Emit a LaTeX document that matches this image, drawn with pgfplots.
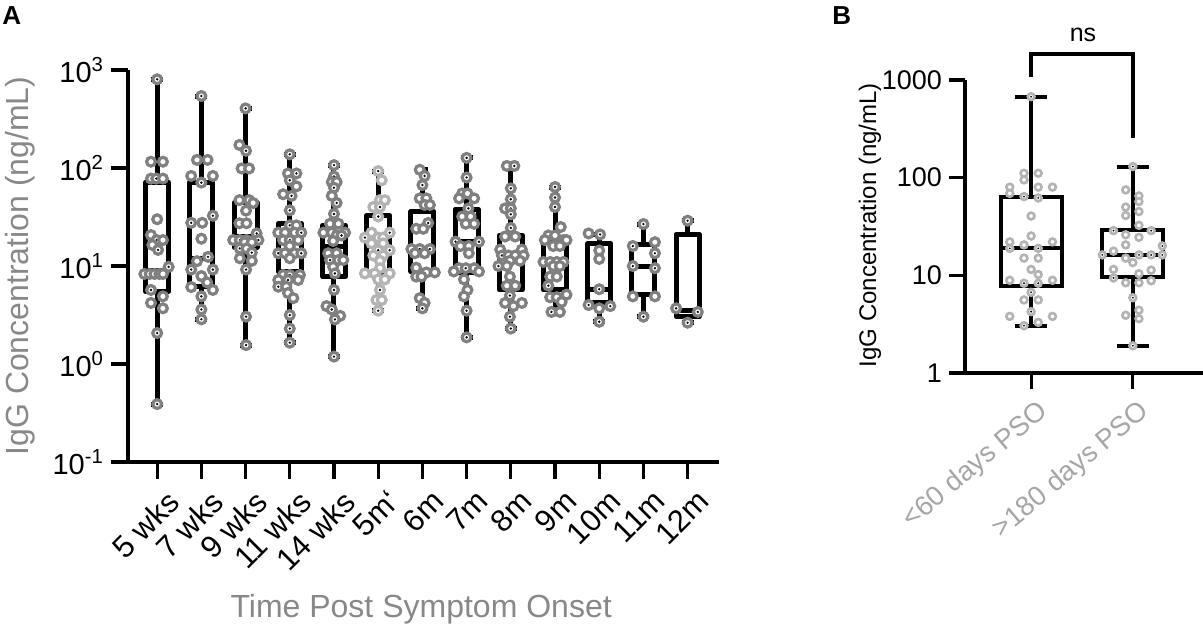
\documentclass[border=0pt]{standalone}
\usepackage{pgfplots}
\usepackage{pgfplotstable}
\pgfplotsset{compat=1.18}
\usepackage{fontspec}
\setmainfont{Liberation Sans}
\definecolor{ptA}{HTML}{808080}
\definecolor{ptL}{HTML}{B3B3B3}
\definecolor{labA}{HTML}{888888}
\definecolor{labB}{HTML}{A6A6A6}

\pgfdeclareplotmark{ringdot}{%
  \pgfpathcircle{\pgfpointorigin}{\pgfplotmarksize}%
  \pgfusepathqfillstroke
  \begin{pgfscope}%
  \pgfsetfillcolor{black}%
  \pgfpathcircle{\pgfpointorigin}{0.3\pgfplotmarksize}%
  \pgfusepathqfill
  \end{pgfscope}%
}

\pgfplotstableread{
x y c
0.00 804 d
-0.14 116 r
0.13 116 r
-0.14 78 r
-0.02 78 d
0.13 78 r
0.00 30 r
-0.14 20.7 r
-0.01 18.4 d
0.13 18.4 r
-0.11 16.4 r
0.02 14.6 d
0.26 9.8 d
-0.29 8.3 r
-0.17 8.3 r
-0.06 8.3 r
0.05 8.3 r
0.13 8.3 r
-0.14 5.7 d
0.13 4.9 r
-0.14 4.2 r
0.13 3.7 r
0.00 2.07 d
0.00 0.39 d
1.00 543 d
0.90 121 r
1.14 121 r
0.77 83 r
1.26 83 r
1.00 71 d
1.26 32.6 d
0.77 27.6 d
1.02 27.6 r
1.00 19 r
1.15 12.4 d
0.90 11.2 r
0.77 9.2 d
1.26 9.2 d
1.00 7.9 r
1.13 6.8 r
0.77 6.1 r
1.26 5.7 r
1.00 4.9 d
1.00 3.6 d
1.00 2.86 d
2.00 406 d
1.86 172 r
2.01 150 d
1.91 99 r
2.08 99 r
1.86 47 r
2.08 47 r
2.17 44 r
2.01 36.7 r
1.86 27.3 r
2.02 27.3 r
2.25 21.5 d
1.72 18.4 r
1.87 18.4 d
2.02 18.4 r
2.29 18.4 d
1.98 17.5 r
2.14 17.5 r
1.87 15.1 d
2.02 15.1 r
2.14 13.7 d
1.87 12 r
2.14 11.3 r
2.01 9.2 d
2.01 3.04 d
2.01 1.56 d
3.00 138 d
2.96 88 r
3.15 88 d
3.00 75 d
3.15 65 r
2.85 54 r
3.04 52 d
3.00 37 d
3.00 26 d
3.15 26 r
2.74 21.9 r
2.89 21.9 r
3.11 21.9 r
3.26 21.9 d
2.85 18.4 r
3.00 18.4 d
3.19 18.4 r
3.00 16 r
2.74 13.5 d
2.89 13.5 r
3.11 13.5 r
3.26 13.5 d
3.00 12 r
2.85 8.1 r
3.00 8.1 d
3.23 8.1 r
2.74 7.2 r
2.96 7.2 d
3.19 7.2 r
2.74 6.15 d
2.92 6.15 r
2.96 5.3 r
3.08 4.7 r
3.00 3.16 d
3.00 2.3 d
3.00 1.65 d
4.00 107 d
4.00 82 d
3.95 72 r
4.06 72 r
4.00 63 d
3.95 52 r
4.06 44 d
4.00 34 d
3.91 27 r
4.10 27 r
3.76 21.9 r
3.95 21.9 r
4.25 21.9 r
4.06 20.5 r
4.17 20.5 d
3.98 18 r
3.87 13.5 r
4.06 13.5 r
3.91 11.5 d
4.10 11.5 r
4.21 11.5 r
3.98 9.8 r
4.02 8.4 d
4.00 5.7 d
3.83 3.9 r
3.95 3.6 d
4.14 3.1 r
4.02 2.85 d
4.00 1.19 d
5.00 93 ld
5.08 75 lr
5.04 47 lr
5.15 47 lr
4.89 40 lr
5.04 40 ld
5.00 32 ld
4.85 21.9 lr
5.26 21.9 ld
4.70 19.5 ld
5.00 19.5 lr
5.11 19.5 lr
4.85 17 lr
5.11 17 lr
5.00 14.5 ld
5.26 14.5 ld
4.89 12.8 lr
5.11 12.8 lr
5.04 11.3 lr
5.04 9.5 lr
4.70 8.4 lr
4.92 8.4 lr
5.26 8.4 lr
5.00 7.3 lr
5.15 7.3 lr
5.04 5.7 ld
4.96 4.5 lr
5.08 4.5 lr
5.00 3.5 ld
5.94 96 r
6.05 83 d
6.00 67 d
5.94 49 r
6.09 49 r
6.05 42 r
6.17 42 r
6.13 27.5 d
5.86 24 r
6.02 24 r
5.75 14.9 r
5.94 14.9 d
6.17 14.9 d
5.83 13.5 r
6.05 13.5 r
5.86 9.6 r
6.09 8.6 r
6.28 8.6 r
5.86 7.8 r
5.98 7.8 r
5.94 4.7 r
6.05 4.2 r
6.00 3.7 d
7.00 127 d
7.00 80 d
6.90 55 r
7.02 55 r
6.83 49 r
7.17 49 r
7.04 38.7 d
6.90 32 r
7.09 32 r
6.98 27 r
7.17 27 r
6.75 17.7 d
7.28 17.7 d
6.86 16 r
7.05 16 r
7.05 13.5 r
6.83 9.5 r
6.98 9.5 d
7.17 9.5 r
6.71 8.8 r
7.28 8.8 r
6.94 7.3 r
7.02 5.7 r
6.94 4.9 r
7.00 3.5 d
7.00 1.87 d
7.91 105 r
8.08 105 d
8.00 62 d
8.00 48 d
7.87 38.7 r
8.00 38.7 d
8.00 33.7 d
8.00 24.5 d
7.87 20 r
8.10 20 r
7.76 14.7 r
8.25 14.7 r
7.80 12.8 d
7.95 12.8 r
8.10 12.8 r
8.29 12.8 r
7.98 11.3 r
8.21 11.3 r
7.72 10 d
7.91 10 r
7.98 7.8 r
7.91 6.3 r
8.10 6.3 r
7.98 5 d
7.87 4.2 r
8.25 4.2 r
8.06 3.9 r
7.98 3.04 d
8.00 2.3 d
9.00 64 d
9.00 50 d
9.00 40 d
9.13 25 r
8.85 20.5 r
9.00 20.5 r
8.77 18.4 r
9.19 18.4 r
9.26 18.4 r
8.96 16 r
9.11 16 r
8.74 11 r
8.89 11 r
9.04 11 r
9.19 11 r
8.96 10 r
9.11 10 r
8.89 7.8 r
9.04 7.8 r
8.85 6.3 d
9.26 5.1 r
8.89 4.8 r
9.04 4.8 r
9.15 4.3 r
8.92 3.4 d
9.11 3.4 r
9.76 21.5 r
10.02 21 d
10.00 14.4 r
10.00 11.8 r
10.00 5.8 d
9.76 4 d
10.25 3.9 d
10.00 3.7 r
10.00 2.7 d
11.00 26.8 d
11.26 17.5 r
10.76 16 d
11.26 13.5 d
10.76 10 d
11.26 9.5 d
10.76 4.9 r
11.26 4.9 r
11.00 3.04 d
12.00 29 d
11.74 3.7 d
12.23 3.4 d
12.00 2.64 d
}\ptsA

\pgfplotstableread{
x y c
0.00 675 d
-0.07 111 r
0.07 111 r
-0.07 95 r
-0.21 80 r
0.07 80 r
0.21 80 r
-0.21 69 r
-0.07 64 d
0.07 62 d
0.00 40.5 r
0.00 25.3 r
-0.21 22 r
0.21 22 r
-0.07 20.5 r
-0.21 18.9 d
0.07 18.9 d
-0.07 15 r
0.07 15 r
0.00 11.5 r
0.07 10.2 r
-0.21 8.9 r
0.21 8.9 r
-0.07 8.3 d
0.07 8.3 d
0.00 6.7 d
-0.07 5.6 r
0.07 5.6 r
0.00 4.25 d
-0.21 3.8 r
0.21 3.8 r
0.07 3.3 r
-0.07 3.05 d
1.00 130 d
0.93 75 r
1.06 65 r
1.06 57 r
0.93 50 r
1.06 45 r
0.93 41 r
1.06 32.5 r
0.81 28.7 d
1.18 28.7 d
0.93 26 r
1.06 24.5 r
0.93 20.5 r
1.29 20 d
0.81 17.7 r
0.70 16.2 d
1.06 16.2 d
1.18 16.2 d
1.29 16.2 d
0.93 15 r
1.00 13.5 r
0.81 11.5 r
1.18 11.3 r
1.06 10.4 r
0.81 9.4 d
1.18 8.8 r
0.93 8.4 r
1.06 8.4 r
1.00 5.9 d
1.06 4.4 r
0.93 3.9 r
1.06 3.6 r
1.00 1.9 d
}\ptsB

\newcommand{\fs}[1]{\fontsize{#1}{#1}\selectfont}

% box: #1 style, #2 position, #3 box half width, #4 cap half width,
%      #5 lower whisker, #6 Q1, #7 median, #8 Q3, #9 upper whisker
\newcommand{\gpbox}[9]{%
  \pgfmathsetmacro\bL{#2-#3}\pgfmathsetmacro\bR{#2+#3}%
  \pgfmathsetmacro\cL{#2-#4}\pgfmathsetmacro\cR{#2+#4}%
  \addplot[#1] coordinates {(#2,#6) (\bR,#6) (\bR,#8) (\bL,#8) (\bL,#6) (#2,#6)
    (#2,nan) (\bL,#7) (\bR,#7)
    (#2,nan) (#2,#8) (#2,#9)
    (#2,nan) (\cL,#9) (\cR,#9)
    (#2,nan) (#2,#6) (#2,#5)
    (#2,nan) (\cL,#5) (\cR,#5)};%
}

\pgfplotsset{
  boxA/.style={draw=black, line width=2.5pt, line join=round, solid, mark=none, unbounded coords=jump},
  boxB/.style={draw=black, line width=2pt, solid, mark=none, unbounded coords=jump},
}

\begin{document}
\begin{tikzpicture}
\useasboundingbox (0,0) rectangle (601.5pt,-316.5pt);
\node[anchor=north west, inner sep=0, font=\bfseries\fs{13}] at (1pt,-3pt) {A};
\node[anchor=north west, inner sep=0, font=\bfseries\fs{13}] at (416pt,-3pt) {B};

\begin{axis}[
  at={(64pt,-231pt)}, anchor=south west, scale only axis,
  width=295.5pt, height=196pt,
  ymode=log, ymin=0.1, ymax=1000, xmin=-0.66, xmax=12.71,
  axis x line*=bottom, axis y line*=left,
  axis line style={line width=1.6pt},
  tick align=outside, major tick length=8.5pt,
  tick style={line width=1.6pt, black},
  yminorticks=false,
  xtick={0,...,12},
  xticklabels={5 wks,7 wks,9 wks,11 wks,14 wks,5m`,6m,7m,8m,9m,10m,11m,12m},
  xticklabel style={xshift=4pt, yshift=-3pt, rotate=45, anchor=north east, font=\fs{15.5}, inner sep=1pt},
  ytick={0.1,1,10,100,1000},
  yticklabels={10\textsuperscript{-1},10\textsuperscript{0},10\textsuperscript{1},10\textsuperscript{2},10\textsuperscript{3}},
  yticklabel style={font=\fs{14.5}},
  ylabel={IgG Concentration (ng/mL)},
  every axis y label/.style={at={(axis description cs:-0.183,0.5)}, rotate=90, anchor=center, font=\fs{16}, text=labA},
  xlabel={Time Post Symptom Onset},
  every axis x label/.style={at={(axis description cs:0.496,-0.375)}, anchor=center, font=\fs{16}, text=labA},
  clip=false,
]
\gpbox{boxA}{0}{0.26}{0.135}{0.39}{5.5}{9}{72}{804}
\gpbox{boxA}{1}{0.26}{0.135}{2.86}{6.2}{12}{72}{543}
\gpbox{boxA}{2}{0.26}{0.135}{1.56}{15.5}{20}{44}{406}
\gpbox{boxA}{3}{0.26}{0.135}{1.65}{8.7}{14}{27}{138}
\gpbox{boxA}{4}{0.26}{0.135}{1.19}{7.8}{16}{26}{107}
\gpbox{boxA}{5}{0.26}{0.135}{3.5}{8.5}{16}{33}{93}
\gpbox{boxA}{6}{0.26}{0.135}{3.7}{8.8}{15}{36}{97}
\gpbox{boxA}{7}{0.26}{0.135}{1.87}{8.5}{17.7}{38}{127}
\gpbox{boxA}{8}{0.26}{0.135}{2.3}{5.7}{12.5}{20.7}{105}
\gpbox{boxA}{9}{0.26}{0.135}{3.4}{5.7}{10.5}{17.7}{64}
\gpbox{boxA}{10}{0.26}{0.135}{2.7}{4.2}{5.8}{17}{21}
\gpbox{boxA}{11}{0.26}{0.135}{3.04}{5.1}{10}{16.4}{26.8}
\gpbox{boxA}{12}{0.26}{0.135}{2.64}{3.05}{3.55}{21.2}{29}
\addplot[scatter, only marks, scatter src=explicit symbolic, mark size=2.2pt,
  scatter/classes={
    r={mark=*, draw=ptA, fill=white, line width=1.6pt},
    d={mark=ringdot, draw=ptA, fill=white, line width=1.6pt},
    lr={mark=*, draw=ptL, fill=white, line width=1.6pt},
    ld={mark=ringdot, draw=ptL, fill=white, line width=1.6pt}}]
  table[x=x, y=y, meta=c] {\ptsA};
\end{axis}

\begin{axis}[
  at={(482.5pt,-186.5pt)}, anchor=south west, scale only axis,
  width=119pt, height=146.5pt,
  ymode=log, ymin=1, ymax=1000, xmin=-0.65, xmax=1.69,
  axis x line*=bottom, axis y line*=left,
  axis line style={line width=1.6pt},
  tick align=outside, major tick length=8pt,
  tick style={line width=1.6pt, black},
  yminorticks=false,
  xtick={0,1},
  xticklabels={<60 days PSO,>180 days PSO},
  xticklabel style={xshift=2.5pt, yshift=-3pt, rotate=40, anchor=north east, font=\fs{13.8}, text=labB, inner sep=1pt},
  ytick={1,10,100,1000},
  yticklabels={1,10,100,1000},
  yticklabel style={font=\fs{13.5}},
  ylabel={IgG Concentration (ng/mL)},
  every axis y label/.style={at={(axis description cs:-0.40,0.505)}, rotate=90, anchor=center, font=\fs{12}, text=black},
  clip=false,
]
\gpbox{boxB}{0}{0.3}{0.16}{3.05}{7.8}{18.9}{64}{675}
\gpbox{boxB}{1}{0.3}{0.16}{1.9}{9.7}{16.2}{29}{130}
\addplot[scatter, only marks, scatter src=explicit symbolic, mark size=1.7pt,
  scatter/classes={
    r={mark=*, draw=ptL, fill=white, line width=1.3pt},
    d={mark=ringdot, draw=ptL, fill=white, line width=1.3pt}}]
  table[x=x, y=y, meta=c] {\ptsB};
\draw[line width=2pt] (axis cs:0,1074) |- (axis cs:1,1846) -- (axis cs:1,255);
\node[font=\fs{12.5}] at (axis cs:0.51,2884) {ns};
\end{axis}
\end{tikzpicture}
\end{document}
